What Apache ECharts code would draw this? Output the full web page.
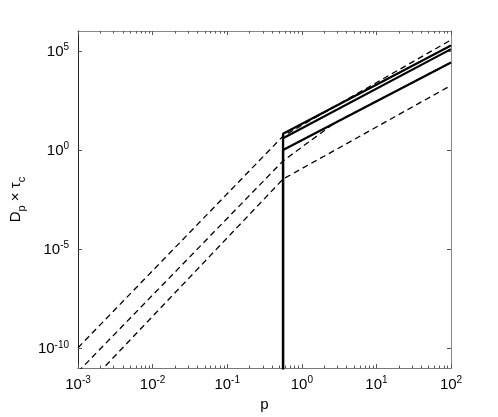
<!DOCTYPE html>
<html>
<head>
<meta charset="utf-8">
<script src="https://cdn.jsdelivr.net/npm/echarts@6/dist/echarts.min.js"></script>
<style>
  html, body { margin: 0; padding: 0; background: #fff; }
  #chart { width: 498px; height: 417px; }
</style>
</head>
<body>
<div id="chart"></div>
<script>
// axis ranges and tick positions
const xRange = [1e-3, 100];
const yRange = [1e-11, 1e6];
const xDecades = [1e-3, 1e-2, 1e-1, 1, 10, 100];
const yDecades = [1e-10, 1e-5, 1, 1e5];

// curves, [p, D_p * tau_c]
const dashedUpper = [[1e-3, 1.07e-10], [0.56, 5.0], [100, 3.55e5]];
const dashedMiddle = [[1e-3, 6.5e-12], [0.56, 0.28], [2.8, 24], [100, 2.6e4]];
const dashedLower = [[1e-3, 4.5e-13], [0.56, 0.034], [100, 1.8e3]];
const solidUpper = [[0.56, 1e-12], [0.56, 6.6], [100, 1.86e5]];
const solidMiddle = [[0.56, 1e-12], [0.56, 3.9], [100, 1.22e5]];
const solidLower = [[0.56, 1e-12], [0.56, 1.0], [100, 2.6e4]];

const font = "'Liberation Sans', Arial, Helvetica, sans-serif";

// minor ticks 2..9 in every decade
const xMinor = [];
xDecades.slice(0, -1).forEach((d) => {
  for (let k = 2; k <= 9; k++) xMinor.push(d * k);
});

const powRich = {
  b: { fontSize: 15, fontFamily: font, color: "#000", verticalAlign: "bottom" },
  s: { fontSize: 10, fontFamily: font, color: "#000", verticalAlign: "bottom", padding: [0, 0, 7, 0] },
};

function powLabel(v) {
  const e = Math.round(Math.log10(v));
  return "{b|10}{s|" + e + "}";
}

function xAxisOf(position, labels, ticks, len) {
  return {
    type: "log",
    logBase: 10,
    min: xRange[0],
    max: xRange[1],
    position,
    axisLine: { show: true, lineStyle: { color: position === "top" ? "#888" : "#777", width: 1 } },
    axisTick: { show: true, inside: true, length: len, customValues: ticks, lineStyle: { color: "#555" } },
    axisLabel: { show: labels, customValues: xDecades, formatter: powLabel, rich: powRich, margin: 7 },
    splitLine: { show: false },
  };
}

function yAxisOf(position, labels) {
  return {
    type: "log",
    logBase: 10,
    min: yRange[0],
    max: yRange[1],
    position,
    axisLine: { show: true, lineStyle: { color: position === "left" ? "#222" : "#888", width: 1 } },
    axisTick: { show: true, inside: true, length: 4, customValues: yDecades, lineStyle: { color: "#555" } },
    axisLabel: { show: labels, customValues: yDecades, formatter: powLabel, rich: powRich, margin: 9 },
    splitLine: { show: false },
  };
}

function line(data, dashed) {
  return {
    type: "line",
    data,
    xAxisIndex: 0,
    yAxisIndex: 0,
    symbol: "none",
    silent: true,
    clip: true,
    lineStyle: dashed
      ? { color: "#000", width: 1.3, type: [6, 4] }
      : { color: "#000", width: 2.2, type: "solid" },
  };
}

const chart = echarts.init(document.getElementById("chart"));
chart.setOption({
  animation: false,
  backgroundColor: "#fff",
  grid: { left: 64, right: 47, top: 31, bottom: 47 },
  xAxis: [
    Object.assign(xAxisOf("bottom", true, xDecades, 4), {
      name: "p",
      nameLocation: "middle",
      nameGap: 22,
      nameTextStyle: { fontSize: 15, fontFamily: font, color: "#000" },
    }),
    xAxisOf("bottom", false, xMinor, 2.5),
    xAxisOf("top", false, xDecades, 4),
    xAxisOf("top", false, xMinor, 2.5),
  ],
  yAxis: [
    Object.assign(yAxisOf("left", true), {
      name: "{m|D}{sub|p}{m| \u00d7 \u03c4}{sub|c}",
      nameLocation: "middle",
      nameRotate: 90,
      nameGap: 40,
      nameTextStyle: {
        rich: {
          m: { fontSize: 15, fontFamily: font, color: "#000", verticalAlign: "top" },
          sub: { fontSize: 11, fontFamily: font, color: "#000", verticalAlign: "top", padding: [8, 0, 0, 0] },
        },
      },
    }),
    yAxisOf("right", false),
  ],
  series: [
    line(dashedUpper, true),
    line(dashedMiddle, true),
    line(dashedLower, true),
    line(solidUpper, false),
    line(solidMiddle, false),
    line(solidLower, false),
  ],
});
</script>
</body>
</html>
